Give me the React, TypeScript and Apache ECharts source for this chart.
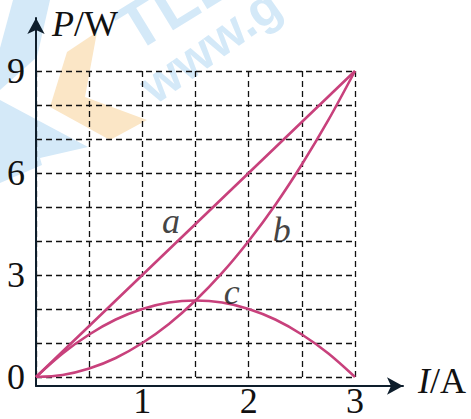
import React, { useEffect, useRef } from "react";
import * as echarts from "echarts";

// Current I (A) and power P (W) for the three curves
const current = [0, 0.25, 0.5, 0.75, 1, 1.25, 1.5, 1.75, 2, 2.25, 2.5, 2.75, 3];
const powerA = [0, 0.75, 1.5, 2.25, 3, 3.75, 4.5, 5.25, 6, 6.75, 7.5, 8.25, 9]; // total power
const powerB = [0, 0.06, 0.25, 0.56, 1, 1.56, 2.25, 3.06, 4, 5.06, 6.25, 7.56, 9]; // heat in internal resistance
const powerC = [0, 0.69, 1.25, 1.69, 2, 2.19, 2.25, 2.19, 2, 1.69, 1.25, 0.69, 0]; // output power

const yTickLabels = ["0", "3", "6", "9"];
const xTickLabels = ["1", "2", "3"];

const curveNames = ["a", "b", "c"];
// where each curve's letter sits, in (I, P)
const letterSpots: [number, number][] = [
  [1.27, 4.6],
  [2.31, 4.31],
  [1.84, 2.51],
];

const SERIF = "'Liberation Serif', 'DejaVu Serif', serif";
const CURVE = "#c8417c";
const INK = "#111";

const pairs = (ys: number[]) => current.map((x, i) => [x, ys[i]]);

export default function App() {
  const ref = useRef<HTMLDivElement>(null);

  useEffect(() => {
    if (!ref.current) return;
    const chart = echarts.init(ref.current, null, { renderer: "svg" });

    const dashed = { show: true, lineStyle: { color: INK, width: 1.3, type: [6, 4] as any } };
    const labelFont = { fontFamily: SERIF, fontSize: 36, color: INK };

    const line = (ys: number[], smooth: boolean | number) => ({
      type: "line",
      xAxisIndex: 0,
      yAxisIndex: 0,
      data: pairs(ys),
      smooth,
      showSymbol: false,
      symbol: "none",
      lineStyle: { color: CURVE, width: 2.6 },
      z: 3,
    });

    // italic letter naming each curve
    const letter = (k: number) => ({
      type: "scatter",
      xAxisIndex: 0,
      yAxisIndex: 0,
      data: [letterSpots[k]],
      symbolSize: 1,
      itemStyle: { color: "rgba(0,0,0,0)" },
      silent: true,
      z: 4,
      label: {
        show: true,
        position: "inside",
        formatter: curveNames[k],
        fontFamily: SERIF,
        fontStyle: "italic",
        fontSize: 36,
        color: INK,
        align: "center",
        verticalAlign: "middle",
      },
    });

    chart.setOption({
      animation: false,
      backgroundColor: "#fff",
      grid: [
        { left: 36, top: 71, width: 319, height: 315 },
        { left: 36, top: 18, width: 367, height: 368 },
      ],
      xAxis: [
        {
          type: "value",
          gridIndex: 0,
          min: 0,
          max: 3,
          interval: 0.5,
          axisLine: { show: false },
          axisTick: { show: false },
          axisLabel: {
            ...labelFont,
            margin: 6,
            formatter: (v: number) => {
              const s = String(v);
              return xTickLabels.includes(s) ? s : "";
            },
          },
          splitLine: dashed,
        },
        {
          type: "value",
          gridIndex: 1,
          min: 0,
          max: 1,
          axisLine: {
            show: true,
            symbol: ["none", "arrow"],
            symbolSize: [13, 16],
            lineStyle: { color: "#0e1e2c", width: 2 },
          },
          axisTick: { show: false },
          axisLabel: { show: false },
          splitLine: { show: false },
        },
      ],
      yAxis: [
        {
          type: "value",
          gridIndex: 0,
          min: 0,
          max: 9,
          interval: 1,
          axisLine: { show: false },
          axisTick: { show: false },
          axisLabel: {
            ...labelFont,
            margin: 11,
            formatter: (v: number) => {
              const s = String(v);
              return yTickLabels.includes(s) ? s : "";
            },
          },
          splitLine: dashed,
        },
        {
          type: "value",
          gridIndex: 1,
          min: 0,
          max: 1,
          axisLine: {
            show: true,
            symbol: ["none", "arrow"],
            symbolSize: [13, 16],
            lineStyle: { color: "#0e1e2c", width: 2 },
          },
          axisTick: { show: false },
          axisLabel: { show: false },
          splitLine: { show: false },
        },
      ],
      graphic: [
        // faint logo marks behind the plot
        {
          type: "polygon",
          z: -10,
          shape: { points: [[13, 0], [50, 0], [37, 57], [0, 90], [0, 48]] },
          style: { fill: "#d4e9f8" },
        },
        {
          type: "polygon",
          z: -10,
          shape: { points: [[0, 100], [88, 147], [40, 158], [42, 165], [0, 183]] },
          style: { fill: "#d4e9f8" },
        },
        {
          type: "polygon",
          z: -10,
          shape: { points: [[97, 32], [67, 52], [50, 107], [110, 140], [147, 120], [85, 97]] },
          style: { fill: "#fbe6c6" },
        },
        {
          type: "text",
          z: -10,
          x: 140,
          y: 62,
          rotation: 0.55,
          style: {
            text: "TLL",
            font: "bold 66px 'Liberation Sans', sans-serif",
            fill: "#d4e9f8",
            textVerticalAlign: "bottom",
          },
        },
        {
          type: "text",
          z: -10,
          x: 160,
          y: 112,
          rotation: 0.62,
          style: {
            text: "www.g",
            font: "bold 50px 'Liberation Sans', sans-serif",
            fill: "#d4e9f8",
            textVerticalAlign: "bottom",
          },
        },
        // axis titles
        {
          type: "text",
          left: 52,
          top: 6,
          style: {
            text: "{i|P}/W",
            font: `36px ${SERIF}`,
            fill: INK,
            rich: { i: { fontStyle: "italic", fontFamily: SERIF, fontSize: 36, color: INK } },
          },
        },
        {
          type: "text",
          left: 418,
          top: 363,
          style: {
            text: "{i|I}/A",
            font: `36px ${SERIF}`,
            fill: INK,
            rich: { i: { fontStyle: "italic", fontFamily: SERIF, fontSize: 36, color: INK } },
          },
        },
      ],
      series: [
        line(powerA, false),
        line(powerB, 0.3),
        line(powerC, 0.3),
        letter(0),
        letter(1),
        letter(2),
      ],
    });

    return () => chart.dispose();
  }, []);

  return (
    <div
      ref={ref}
      style={{ position: "fixed", left: 0, top: 0, width: 471, height: 419, background: "#fff" }}
    />
  );
}
